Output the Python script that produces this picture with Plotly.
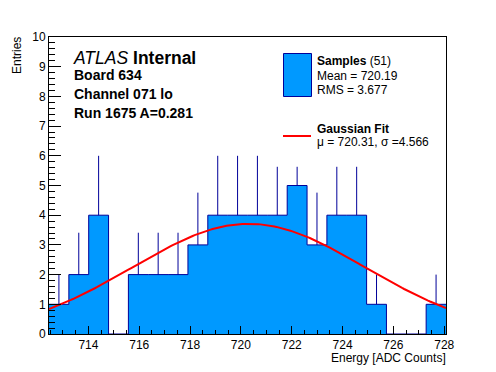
import numpy as np
import plotly.graph_objects as go

# ---------------- data ----------------
x_min, x_max = 712.45, 728.07
n_bins = 20
counts = [1, 2, 4, 0, 2, 2, 2, 3, 4, 4, 4, 4, 5, 3, 4, 4, 1, 0, 0, 1]
err_top = [2.0, 3.41, 6.0, None, 3.41, 3.41, 3.41, 4.76, 6.0, 6.0,
           6.0, 5.63, 5.63, 4.76, 5.63, 5.63, 2.0, None, None, 2.0]
fit_mu = 720.31
fit_sigma = 4.566
fit_amp = 3.71
x_ticks = [714, 716, 718, 720, 722, 724, 726, 728]
y_ticks = list(range(0, 11))

# ---------------- derived ----------------
edges = np.linspace(x_min, x_max, n_bins + 1)
centers = 0.5 * (edges[:-1] + edges[1:])
step_y = counts + [counts[-1]]
err_plus = [(t - c) if t is not None else None for t, c in zip(err_top, counts)]
err_y_vals = [c if t is not None else None for t, c in zip(err_top, counts)]
fx = np.linspace(x_min, x_max, 200)
fy = fit_amp * np.exp(-0.5 * ((fx - fit_mu) / fit_sigma) ** 2)

# page offset (browser default body margin)
OFF = 8
W, H = 496 - OFF, 372 - OFF
L, R, T, B = 49, 446, 37, 334   # plot area in window pixels
PAD = 2                          # annotation inner padding
def px(x):
    return (x - L) / (R - L)
def py(y):
    return (B - y) / (B - T)

FILL = "#0099ff"
NAVY = "#000099"
FONT = "Liberation Sans, Arial, Helvetica, sans-serif"

fig = go.Figure()
fig.add_trace(go.Scatter(
    x=edges, y=step_y, mode="lines", line=dict(shape="hv", color=NAVY, width=1),
    fill="tozeroy", fillcolor=FILL, showlegend=False, hoverinfo="skip"))
fig.add_trace(go.Scatter(
    x=centers, y=err_y_vals, mode="markers",
    marker=dict(size=1, color="rgba(0,0,0,0)"),
    error_y=dict(type="data", symmetric=False, array=err_plus,
                 arrayminus=[0] * n_bins, width=0, thickness=1, color=NAVY),
    showlegend=False, hoverinfo="skip"))
fig.add_trace(go.Scatter(
    x=fx, y=fy, mode="lines", line=dict(color="#ff0000", width=2),
    showlegend=False, hoverinfo="skip"))

axis_common = dict(showline=True, linecolor="black", linewidth=1, mirror=True,
                   showgrid=False, zeroline=False, ticks="inside", tickcolor="black",
                   tickwidth=1, tickfont=dict(family=FONT, size=12, color="black"))
fig.update_xaxes(range=[x_min, x_max], tickmode="array", tickvals=x_ticks,
                 ticktext=[str(v) for v in x_ticks], ticklen=8,
                 minor=dict(ticks="inside", dtick=0.5, tick0=714, ticklen=4,
                            tickcolor="black", showgrid=False),
                 **axis_common)
fig.update_yaxes(range=[0, 10], tickmode="array", tickvals=y_ticks,
                 ticktext=[str(v) for v in y_ticks], ticklen=12,
                 minor=dict(ticks="inside", dtick=0.2, tick0=0, ticklen=6,
                            tickcolor="black", showgrid=False),
                 **axis_common)

ann = []
def text(x, y, s, size, anchor="left", angle=0):
    dx = -PAD if anchor == "left" else (PAD if anchor == "right" else 0)
    ann.append(dict(x=px(x + dx), y=py(y), xref="paper", yref="paper", text=s,
                    showarrow=False, xanchor=anchor, yanchor="middle",
                    textangle=angle,
                    font=dict(family=FONT, size=size, color="black")))

text(73, 58.3, "<i>ATLAS</i> <b>Internal</b>", 17.5)
text(74, 75.3, "<b>Board 634</b>", 14)
text(74, 94.2, "<b>Channel 071 lo</b>", 14)
text(74, 113, "<b>Run 1675 A=0.281</b>", 14)
text(317, 61.0, "<b>Samples</b> (51)", 12)
text(317, 76.3, "Mean = 720.19", 12)
text(317, 89.6, "RMS = 3.677", 12)
text(317, 129.2, "<b>Gaussian Fit</b>", 12)
text(317, 142.0, "μ = 720.31, σ =4.566", 12)
text(446, 357.5, "Energy [ADC Counts]", 12, anchor="right")
text(17, 56, "Entries", 12, anchor="center", angle=-90)

shapes = [
    dict(type="rect", xref="paper", yref="paper", x0=px(283.5), x1=px(311.5),
         y0=py(96.5), y1=py(53.5), fillcolor=FILL, line=dict(color=NAVY, width=1)),
    dict(type="line", xref="paper", yref="paper", x0=px(283), x1=px(311),
         y0=py(136), y1=py(136), line=dict(color="#ff0000", width=2)),
]

fig.update_layout(width=W, height=H,
                  margin=dict(l=L - OFF, r=W - (R - OFF), t=T - OFF, b=H - (B - OFF)),
                  paper_bgcolor="white", plot_bgcolor="white",
                  annotations=ann, shapes=shapes, showlegend=False)
fig.write_html("out.html")
